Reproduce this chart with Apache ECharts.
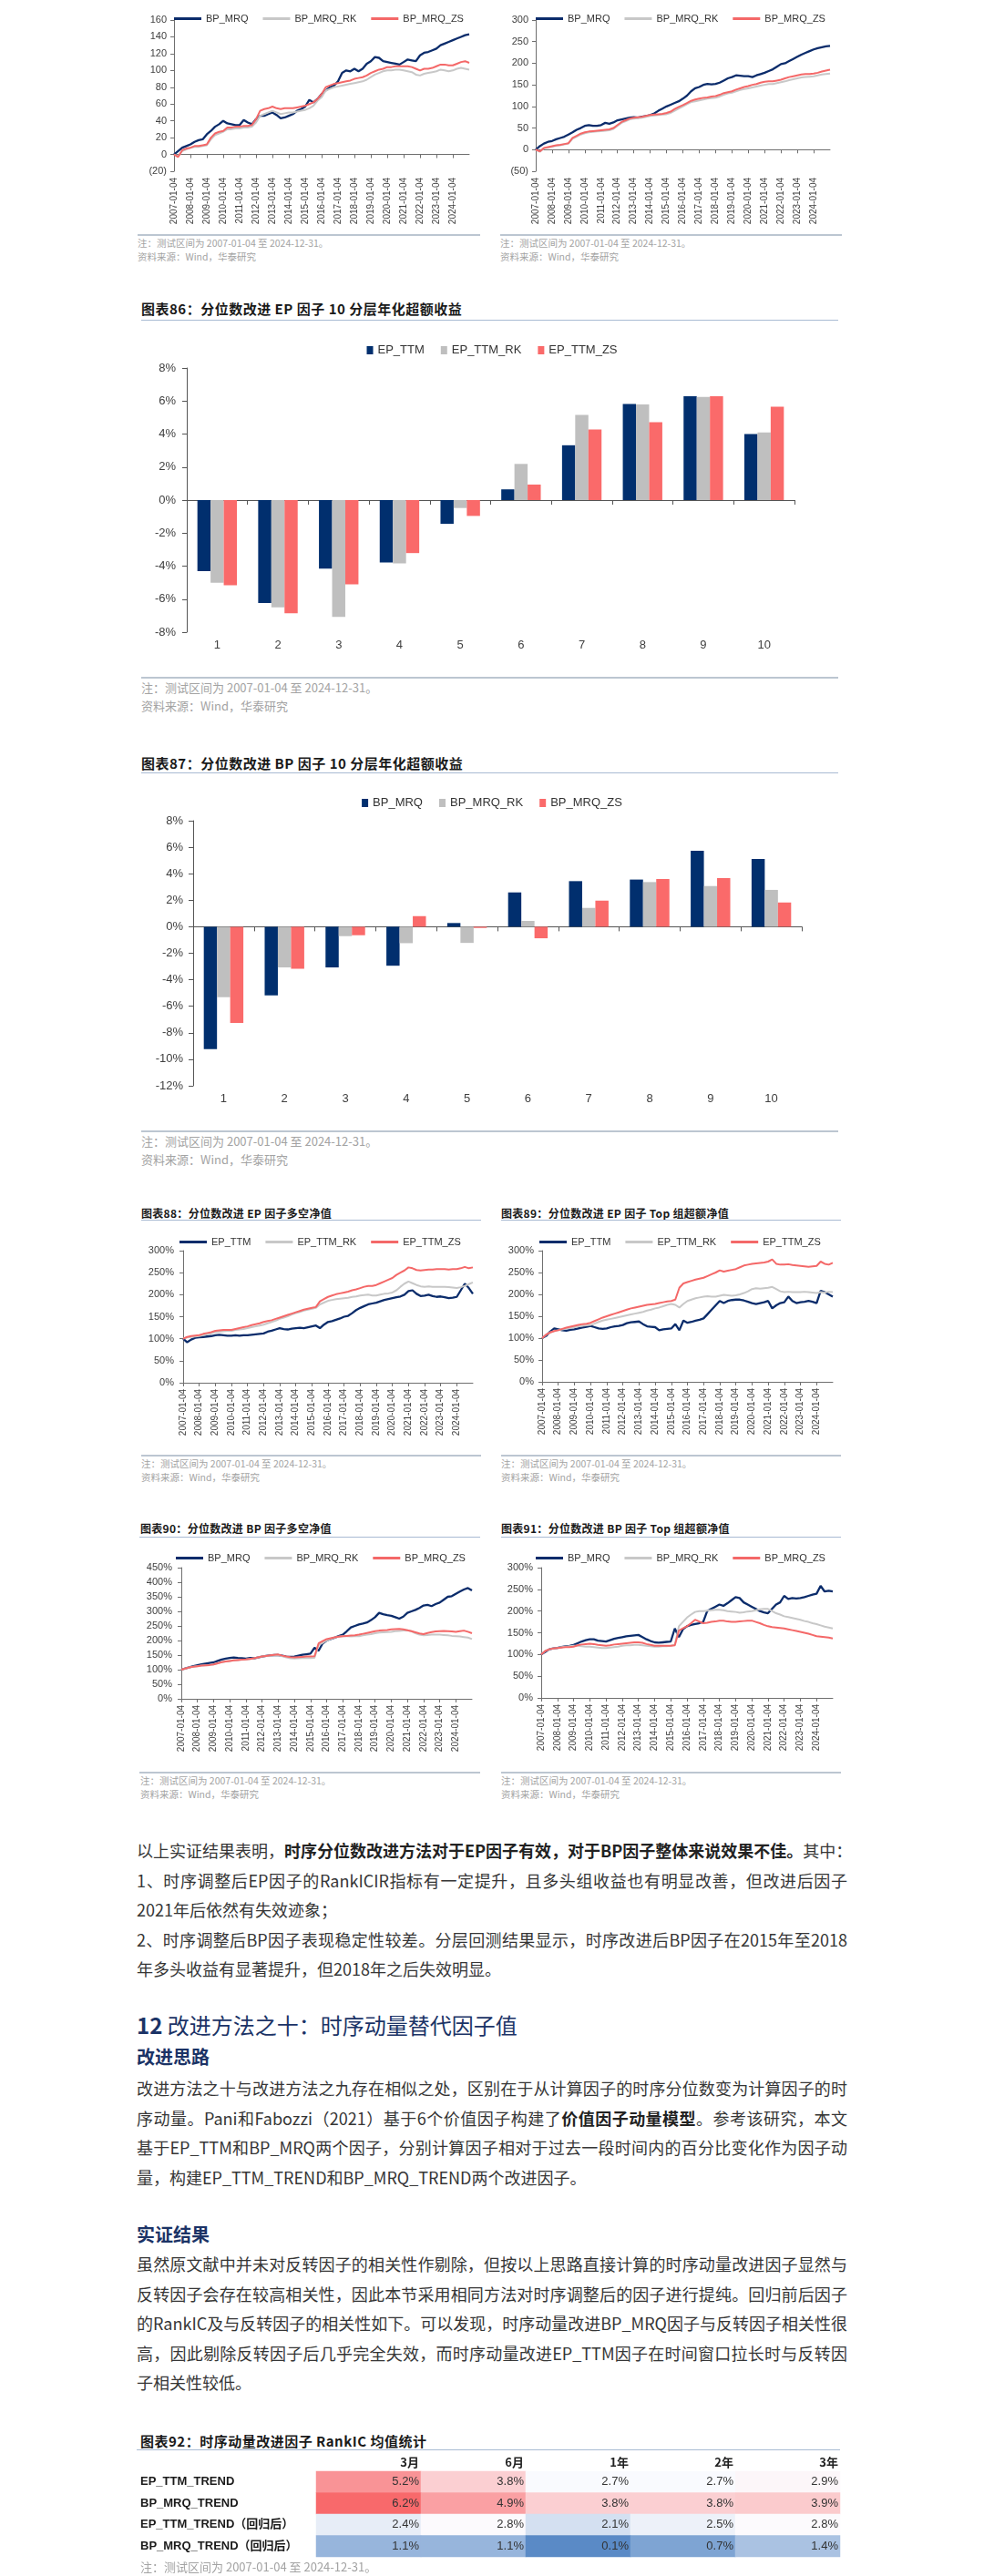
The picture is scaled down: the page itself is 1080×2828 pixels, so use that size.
<!DOCTYPE html>
<html><head><meta charset="utf-8">
<script src="https://cdn.jsdelivr.net/npm/echarts@6.0.0/dist/echarts.min.js"></script>
<style>
html,body{margin:0;padding:0;background:#fff;}
body{width:1080px;height:2828px;position:relative;overflow:hidden;font-family:"Noto Sans CJK SC","Noto Sans",sans-serif;}
.ch{position:absolute;}
.ttl{position:absolute;font-weight:bold;color:#1a1a1a;white-space:nowrap;font-family:"Noto Sans CJK SC",sans-serif;}
.t15{font-size:15px;line-height:20px;letter-spacing:0.5px;}
.t12{font-size:12px;line-height:16px;letter-spacing:0.3px;}
.rule{position:absolute;height:1px;background:#a9bbd3;}
.nrule{position:absolute;height:2px;background:#bcc6d1;}
.note{position:absolute;color:#a3a3a3;white-space:nowrap;font-family:"Noto Sans CJK SC",sans-serif;}
.n13{font-size:13px;line-height:18px;}
.n10{font-size:10.5px;line-height:14px;}
.para{position:absolute;left:150px;width:780px;font-size:18px;line-height:32.5px;color:#363636;}
.ln{white-space:nowrap;text-align:justify;text-align-last:justify;}
.ln.last{text-align-last:left;}
.para b{font-weight:bold;color:#222;}
.h1{position:absolute;left:150px;font-size:24px;line-height:32px;color:#1b3366;white-space:nowrap;}
.h2{position:absolute;left:150px;font-size:20px;line-height:28px;color:#1b3366;font-weight:bold;white-space:nowrap;}
</style>
</head>
<body>

<!-- top charts -->
<div id="c_tl" class="ch" style="left:0;top:0;width:540px;height:256px;"></div>
<div id="c_tr" class="ch" style="left:540px;top:0;width:540px;height:256px;"></div>
<div class="nrule" style="left:151px;top:257px;width:376px;"></div>
<div class="nrule" style="left:549px;top:257px;width:375px;"></div>
<div class="note n10" style="left:151px;top:260px;">注：测试区间为 2007-01-04 至 2024-12-31。</div>
<div class="note n10" style="left:151px;top:275px;">资料来源：Wind，华泰研究</div>
<div class="note n10" style="left:549px;top:260px;">注：测试区间为 2007-01-04 至 2024-12-31。</div>
<div class="note n10" style="left:549px;top:275px;">资料来源：Wind，华泰研究</div>

<!-- chart 86 -->
<div class="ttl t15" style="left:155px;top:329px;">图表86：分位数改进 EP 因子 10 分层年化超额收益</div>
<div class="rule" style="left:155px;top:351px;width:765px;"></div>
<div id="c86" class="ch" style="left:0;top:360px;width:1080px;height:375px;"></div>
<div class="nrule" style="left:155px;top:743px;width:765px;"></div>
<div class="note n13" style="left:155px;top:746px;">注：测试区间为 2007-01-04 至 2024-12-31。</div>
<div class="note n13" style="left:155px;top:766px;">资料来源：Wind，华泰研究</div>

<!-- chart 87 -->
<div class="ttl t15" style="left:155px;top:828px;">图表87：分位数改进 BP 因子 10 分层年化超额收益</div>
<div class="rule" style="left:155px;top:848px;width:765px;"></div>
<div id="c87" class="ch" style="left:0;top:860px;width:1080px;height:375px;"></div>
<div class="nrule" style="left:155px;top:1241px;width:765px;"></div>
<div class="note n13" style="left:155px;top:1244px;">注：测试区间为 2007-01-04 至 2024-12-31。</div>
<div class="note n13" style="left:155px;top:1264px;">资料来源：Wind，华泰研究</div>

<!-- charts 88 / 89 -->
<div class="ttl t12" style="left:155px;top:1324px;">图表88：分位数改进 EP 因子多空净值</div>
<div class="ttl t12" style="left:550px;top:1324px;">图表89：分位数改进 EP 因子 Top 组超额净值</div>
<div class="rule" style="left:155px;top:1339px;width:373px;"></div>
<div class="rule" style="left:550px;top:1339px;width:373px;"></div>
<div id="c88" class="ch" style="left:0;top:1340px;width:540px;height:250px;"></div>
<div id="c89" class="ch" style="left:540px;top:1340px;width:540px;height:250px;"></div>
<div class="nrule" style="left:155px;top:1597px;width:373px;"></div>
<div class="nrule" style="left:550px;top:1597px;width:373px;"></div>
<div class="note n10" style="left:155px;top:1600px;">注：测试区间为 2007-01-04 至 2024-12-31。</div>
<div class="note n10" style="left:155px;top:1615px;">资料来源：Wind，华泰研究</div>
<div class="note n10" style="left:550px;top:1600px;">注：测试区间为 2007-01-04 至 2024-12-31。</div>
<div class="note n10" style="left:550px;top:1615px;">资料来源：Wind，华泰研究</div>

<!-- charts 90 / 91 -->
<div class="ttl t12" style="left:154px;top:1670px;">图表90：分位数改进 BP 因子多空净值</div>
<div class="ttl t12" style="left:550px;top:1670px;">图表91：分位数改进 BP 因子 Top 组超额净值</div>
<div class="rule" style="left:153px;top:1687px;width:374px;"></div>
<div class="rule" style="left:550px;top:1687px;width:373px;"></div>
<div id="c90" class="ch" style="left:0;top:1690px;width:540px;height:250px;"></div>
<div id="c91" class="ch" style="left:540px;top:1690px;width:540px;height:250px;"></div>
<div class="nrule" style="left:153px;top:1945px;width:374px;"></div>
<div class="nrule" style="left:550px;top:1945px;width:373px;"></div>
<div class="note n10" style="left:154px;top:1948px;">注：测试区间为 2007-01-04 至 2024-12-31。</div>
<div class="note n10" style="left:154px;top:1963px;">资料来源：Wind，华泰研究</div>
<div class="note n10" style="left:550px;top:1948px;">注：测试区间为 2007-01-04 至 2024-12-31。</div>
<div class="note n10" style="left:550px;top:1963px;">资料来源：Wind，华泰研究</div>

<!-- text -->
<div class="para" style="top:2015px;">
<div class="ln">以上实证结果表明，<b>时序分位数改进方法对于EP因子有效，对于BP因子整体来说效果不佳。</b>其中：</div>
<div class="ln">1、时序调整后EP因子的RankICIR指标有一定提升，且多头组收益也有明显改善，但改进后因子</div>
<div class="ln last">2021年后依然有失效迹象；</div>
<div class="ln">2、时序调整后BP因子表现稳定性较差。分层回测结果显示，时序改进后BP因子在2015年至2018</div>
<div class="ln last">年多头收益有显著提升，但2018年之后失效明显。</div>
</div>
<div class="h1" style="top:2207px;"><b>12</b> 改进方法之十：时序动量替代因子值</div>
<div class="h2" style="top:2244px;">改进思路</div>
<div class="para" style="top:2276px;">
<div class="ln">改进方法之十与改进方法之九存在相似之处，区别在于从计算因子的时序分位数变为计算因子的时</div>
<div class="ln">序动量。Pani和Fabozzi（2021）基于6个价值因子构建了<b>价值因子动量模型</b>。参考该研究，本文</div>
<div class="ln">基于EP_TTM和BP_MRQ两个因子，分别计算因子相对于过去一段时间内的百分比变化作为因子动</div>
<div class="ln last">量，构建EP_TTM_TREND和BP_MRQ_TREND两个改进因子。</div>
</div>
<div class="h2" style="top:2439px;">实证结果</div>
<div class="para" style="top:2469px;">
<div class="ln">虽然原文献中并未对反转因子的相关性作剔除，但按以上思路直接计算的时序动量改进因子显然与</div>
<div class="ln">反转因子会存在较高相关性，因此本节采用相同方法对时序调整后的因子进行提纯。回归前后因子</div>
<div class="ln">的RankIC及与反转因子的相关性如下。可以发现，时序动量改进BP_MRQ因子与反转因子相关性很</div>
<div class="ln">高，因此剔除反转因子后几乎完全失效，而时序动量改进EP_TTM因子在时间窗口拉长时与反转因</div>
<div class="ln last">子相关性较低。</div>
</div>

<!-- table 92 -->
<div class="ttl t15" style="left:154px;top:2670px;">图表92：时序动量改进因子 RankIC 均值统计</div>
<div class="rule" style="left:150px;top:2689px;width:772px;"></div>
<div id="ctbl" class="ch" style="left:0;top:2690px;width:1080px;height:122px;"></div>
<div class="note n13" style="left:154px;top:2809px;">注：测试区间为 2007-01-04 至 2024-12-31。</div>

<script>
// ---------- data ----------
// quarterly sample dates, 2007-01-04 ... 2024-12-31
const dates = [];
for (let y = 2007; y <= 2024; y++) { ['01-04','04-01','07-01','10-08'].forEach(md => dates.push(y + '-' + md)); }
dates.push('2024-12-31');

// top-left panel (BP_MRQ family)
const tlMRQ = [0,4,8,10, 12,15,17,18, 24,28,33,36, 40,37,36,35, 35,41,38,36, 42,46,46,48, 50,47,43,44, 46,48,52,54, 57,65,62,66, 72,76,80,82, 87,97,100,99, 102,99,102,108, 111,116,115,111, 110,109,108,107, 110,113,112,111, 118,121,122,124, 126,130,132,134, 136,138,140,142, 143];
const tlRK  = [0,-2,4,6, 8,9,9,10, 11,18,23,25, 27,30,30,31, 31,32,32,33, 38,46,48,50, 52,50,48,49, 50,50,51,52, 53,55,58,64, 68,76,78,80, 81,82,83,84, 85,86,87,89, 92,95,97,99, 100,100,101,101, 100,99,98,95, 94,96,97,98, 99,101,100,99, 100,102,103,102, 101];
const tlZS  = [0,-3,5,7, 8,10,10,11, 12,20,25,27, 28,32,32,33, 33,34,34,35, 42,52,54,55, 57,55,54,55, 55,55,56,57, 58,60,62,66, 72,80,82,84, 85,86,87,88, 90,91,92,94, 97,99,101,102, 104,104,105,105, 105,105,104,102, 100,102,102,103, 105,107,107,106, 106,108,110,111, 109];
// top-right panel
const trMRQ = [0,8,14,18, 20,24,27,30, 35,40,46,50, 55,57,55,55, 57,62,60,63, 68,70,72,74, 75,74,76,78, 80,84,90,95, 100,104,108,112, 118,125,135,142, 145,150,152,151, 152,155,160,165, 168,172,171,170, 170,168,172,175, 178,182,186,192, 198,200,205,210, 215,220,224,228, 232,235,237,239, 240];
const trRK  = [0,-5,3,5, 7,9,10,12, 14,25,30,35, 38,40,41,42, 43,44,45,48, 55,62,66,70, 72,73,74,76, 78,79,80,81, 82,85,90,95, 100,105,110,112, 114,116,118,119, 120,123,127,130, 132,135,138,140, 142,144,146,148, 150,152,152,154, 156,158,161,163, 165,167,168,169, 170,172,174,175, 176];
const trZS  = [0,-4,4,6, 8,10,11,13, 15,27,32,37, 40,42,43,44, 45,46,47,50, 57,64,68,72, 74,75,76,78, 80,81,82,83, 85,88,94,99, 103,108,113,116, 118,120,121,123, 124,127,131,133, 135,139,142,145, 147,150,152,155, 157,158,158,160, 162,165,168,170, 172,174,175,175, 176,178,181,183, 185];

// chart 86 / 87 : decile annualised excess return (%)
const deciles = ['1','2','3','4','5','6','7','8','9','10'];
const ep86TTM = [-4.31,-6.23,-4.15,-3.78,-1.44,0.65,3.32,5.82,6.29,4.00];
const ep86RK  = [-5.01,-6.49,-7.08,-3.83,-0.48,2.19,5.16,5.79,6.25,4.09];
const ep86ZS  = [-5.16,-6.86,-5.11,-3.21,-0.96,0.94,4.28,4.72,6.29,5.66];
const bp87MRQ = [-9.24,-5.18,-3.07,-2.94,0.28,2.59,3.44,3.56,5.73,5.11];
const bp87RK  = [-5.32,-3.07,-0.71,-1.24,-1.22,0.44,1.42,3.37,3.07,2.78];
const bp87ZS  = [-7.25,-3.17,-0.64,0.80,-0.09,-0.87,1.97,3.60,3.67,1.83];

// chart 88 : EP long-short NAV (%)
const e88TTM = [100,92,98,102, 103,104,105,106, 108,109,108,107, 107,108,107,108, 108,109,110,111, 112,116,118,121, 124,122,121,123, 124,125,124,126, 128,130,124,132, 138,140,143,146, 150,152,158,165, 170,174,178,180, 182,185,188,190, 192,194,196,200, 208,210,202,197, 198,200,197,195, 196,194,192,193, 195,210,225,215, 202];
const e88RK  = [100,103,104,105, 106,108,110,112, 115,116,117,118, 118,120,121,122, 124,126,128,130, 132,135,138,141, 145,148,151,155, 158,161,164,166, 168,170,178,182, 186,188,190,191, 192,193,195,196, 198,199,200,198, 198,200,202,203, 205,210,218,225, 230,226,222,219, 218,219,218,218, 218,218,217,216, 215,217,220,224, 228];
const e88ZS  = [100,104,106,107, 108,111,113,115, 118,119,120,120, 120,122,124,126, 128,131,133,135, 138,140,142,145, 148,151,154,157, 160,163,166,168, 170,172,185,190, 195,198,201,203, 205,207,210,212, 215,218,220,220, 222,226,230,234, 238,245,250,255, 262,260,256,255, 256,257,257,258, 258,258,257,258, 258,260,263,260, 262];
// chart 89 : EP top-group excess NAV (%)
const e89TTM = [100,105,115,122, 120,118,117,119, 120,122,124,126, 128,125,122,121, 122,125,127,128, 130,134,136,137, 138,132,127,126, 125,118,120,121, 122,132,118,140, 135,137,140,142, 145,155,165,175, 185,180,185,187, 188,188,186,183, 180,178,180,182, 185,168,175,180, 182,195,185,180, 182,183,185,183, 180,208,205,200, 195];
const e89RK  = [100,108,113,116, 118,120,122,123, 125,127,128,129, 130,133,137,140, 142,144,146,148, 150,152,154,156, 158,160,163,165, 168,170,173,176, 178,176,170,178, 185,188,191,193, 195,196,195,195, 197,199,198,197, 198,200,203,207, 212,214,213,214, 215,217,212,207, 205,206,205,205, 205,206,205,204, 203,205,204,206, 205];
const e89ZS  = [100,108,113,116, 118,121,124,126, 128,130,132,133, 135,139,143,147, 150,153,156,159, 162,165,168,170, 172,174,176,177, 178,180,182,184, 185,188,215,225, 228,231,234,236, 238,242,246,250, 255,252,254,256, 258,262,266,268, 270,271,272,273, 275,280,270,268, 268,269,267,266, 265,264,263,264, 265,275,270,268, 272];
// chart 90 : BP long-short NAV (%)
const b90MRQ = [100,104,108,112, 115,118,121,123, 125,130,135,138, 140,142,140,139, 138,140,139,142, 145,147,149,150, 150,148,145,144, 145,148,151,153, 155,175,165,190, 200,205,210,215, 220,232,245,250, 255,258,262,270, 280,295,290,287, 285,280,275,282, 295,300,305,312, 320,322,318,325, 330,340,350,352, 360,368,375,380, 372];
const b90RK  = [100,104,108,110, 112,114,115,116, 118,122,126,128, 130,132,133,134, 135,137,139,142, 145,147,148,149, 150,146,142,139, 138,139,140,140, 140,141,185,192, 200,205,210,213, 215,215,214,215, 215,218,220,222, 225,227,228,229, 230,232,233,234, 235,232,225,220, 218,219,220,220, 220,219,218,216, 215,214,212,210, 205];
const b90ZS  = [100,104,108,110, 112,114,115,116, 118,122,126,128, 130,132,133,134, 135,137,139,142, 145,147,149,151, 152,148,145,143, 142,143,144,145, 145,146,190,198, 205,208,211,213, 215,216,217,218, 220,223,226,229, 232,234,235,236, 238,239,240,238, 235,232,228,224, 222,226,229,231, 232,233,232,231, 230,232,234,230, 225];
// chart 91 : BP top-group excess NAV (%)
const b91MRQ = [100,106,112,114, 115,117,119,120, 122,126,130,133, 135,135,132,131, 130,133,136,138, 140,142,143,144, 145,140,135,131, 128,127,128,129, 130,160,140,158, 165,168,170,172, 175,200,205,210, 215,212,218,225, 232,230,220,215, 210,205,200,197, 195,205,215,220, 235,228,230,229, 230,232,235,238, 240,258,245,247, 245];
const b91RK  = [100,108,112,114, 115,117,118,119, 120,120,119,118, 118,117,116,115, 115,116,117,118, 120,121,121,122, 122,121,120,119, 118,118,119,119, 120,122,165,175, 185,192,198,200, 200,201,202,203, 203,202,200,199, 198,196,197,199, 200,202,204,205, 205,200,195,192, 188,186,184,182, 180,177,175,172, 170,167,164,162, 160];
const b91ZS  = [100,108,112,114, 115,116,117,117, 118,121,123,124, 125,124,122,121, 120,121,123,124, 125,126,127,128, 128,127,124,122, 120,120,120,120, 120,121,155,160, 165,172,180,176, 172,173,175,176, 178,178,176,175, 175,176,177,178, 178,175,172,168, 165,163,162,161, 160,158,156,154, 152,150,148,145, 142,141,140,139, 137];

// table 92 : RankIC means (%)
const tblCols = ['3月','6月','1年','2年','3年'];
const tblRows = ['EP_TTM_TREND','BP_MRQ_TREND','EP_TTM_TREND（回归后）','BP_MRQ_TREND（回归后）'];
const icEP  = [5.2,3.8,2.7,2.7,2.9];
const icBP  = [6.2,4.9,3.8,3.8,3.9];
const icEPr = [2.4,2.8,2.1,2.5,2.8];
const icBPr = [1.1,1.1,0.1,0.7,1.4];

// ---------- styling ----------
const LINE_COLORS = ['#0b2c6b', '#c8c8c8', '#f46868'];
const LINE_W = [2.3, 2, 2];
const BAR_COLORS = ['#012f6e', '#bfbfbf', '#fa6a6a'];
const FONT = '"Liberation Sans", Arial, "Noto Sans CJK SC", sans-serif';
const AX = '#6f6f6f';
function yearTick(idx) { return idx % 4 === 0 && idx < 72; }

function makeLine(id, o) {
  const ch = echarts.init(document.getElementById(id));
  ch.setOption({
    animation: false,
    textStyle: {fontFamily: FONT},
    legend: {left: o.ll, top: o.lt, icon: 'rect', itemWidth: 30, itemHeight: 3, itemGap: 16, padding: 0,
      textStyle: {fontSize: 11, color: '#333', fontFamily: FONT}, data: o.names},
    grid: {left: o.gl, top: o.gt, width: o.gw, height: o.gh, containLabel: false, outerBoundsMode: 'none'},
    xAxis: [
      // label axis at the bottom of the plot
      {type: 'category', data: dates, boundaryGap: false, position: 'bottom',
        axisLine: {show: false, onZero: false}, axisTick: {show: false},
        axisLabel: {interval: yearTick, rotate: 90, fontSize: 10, color: '#404040', margin: o.lm, fontFamily: FONT},
        splitLine: {show: false}},
      // axis line + ticks sitting on zero
      {type: 'category', data: dates, boundaryGap: false, position: 'top',
        axisLine: {show: true, onZero: true, lineStyle: {color: AX, width: 1}},
        axisTick: {show: true, inside: true, interval: yearTick, length: 4, lineStyle: {color: AX}},
        axisLabel: {show: false}, splitLine: {show: false}}
    ],
    yAxis: {type: 'value', min: o.min, max: o.max, interval: o.iv,
      axisLine: {show: true, lineStyle: {color: AX}},
      axisTick: {show: true, length: 4, lineStyle: {color: AX}},
      axisLabel: {fontSize: 11, color: '#404040', margin: o.ym, formatter: o.fmt, fontFamily: FONT},
      splitLine: {show: false}},
    series: o.series.map((d, i) => ({name: o.names[i], type: 'line', xAxisIndex: 0, data: d, symbol: 'none', showSymbol: false,
      lineStyle: {width: LINE_W[i], color: LINE_COLORS[i]}, itemStyle: {color: LINE_COLORS[i]}, z: 2 + i}))
  });
}

function makeBar(id, o) {
  const ch = echarts.init(document.getElementById(id));
  ch.setOption({
    animation: false,
    textStyle: {fontFamily: FONT},
    legend: {left: 'center', top: o.lt, icon: 'rect', itemWidth: 7, itemHeight: 9, itemGap: 18, padding: 0,
      textStyle: {fontSize: 13, color: '#333', fontFamily: FONT}, data: o.names},
    grid: {left: o.gl, top: o.gt, width: o.gw, height: o.gh, containLabel: false, outerBoundsMode: 'none'},
    xAxis: [
      {type: 'category', data: deciles, position: 'bottom',
        axisLine: {show: false, onZero: false}, axisTick: {show: false},
        axisLabel: {fontSize: 13, color: '#404040', margin: 8, fontFamily: FONT}},
      {type: 'category', data: deciles, position: 'top',
        axisLine: {show: true, onZero: true, lineStyle: {color: '#555'}},
        axisTick: {show: true, inside: true, length: 5, lineStyle: {color: '#555'}},
        axisLabel: {show: false}}
    ],
    yAxis: {type: 'value', min: o.min, max: o.max, interval: 2,
      axisLine: {show: true, lineStyle: {color: '#555'}},
      axisTick: {show: true, length: 5, lineStyle: {color: '#555'}},
      splitLine: {show: false},
      axisLabel: {fontSize: 13, color: '#404040', margin: o.ym, formatter: v => v + '%', fontFamily: FONT}},
    series: o.series.map((d, i) => ({name: o.names[i], type: 'bar', xAxisIndex: 0, data: d, barGap: '0%', barCategoryGap: '35%',
      itemStyle: {color: BAR_COLORS[i]}}))
  });
}

const paren = v => v < 0 ? '(' + (-v) + ')' : String(v);
const pct = v => v + '%';
const BPN = ['BP_MRQ', 'BP_MRQ_RK', 'BP_MRQ_ZS'];
const EPN = ['EP_TTM', 'EP_TTM_RK', 'EP_TTM_ZS'];

makeLine('c_tl', {gl: 191, gt: 22, gw: 324, gh: 166, min: -20, max: 160, iv: 20, ll: 191, lt: 15, ym: 8, lm: 7, fmt: paren, names: BPN, series: [tlMRQ, tlRK, tlZS]});
makeLine('c_tr', {gl: 48, gt: 22, gw: 323, gh: 166, min: -50, max: 300, iv: 50, ll: 48, lt: 15, ym: 8, lm: 7, fmt: paren, names: BPN, series: [trMRQ, trRK, trZS]});
makeBar('c86', {gl: 205, gt: 44, gw: 667, gh: 290, min: -8, max: 8, lt: 18, ym: 12, names: EPN, series: [ep86TTM, ep86RK, ep86ZS]});
makeBar('c87', {gl: 212, gt: 41, gw: 668, gh: 291, min: -12, max: 8, lt: 15, ym: 11, names: BPN, series: [bp87MRQ, bp87RK, bp87ZS]});
makeLine('c88', {gl: 201, gt: 33, gw: 318, gh: 145, min: 0, max: 300, iv: 50, ll: 197, lt: 18, ym: 10, lm: 7, fmt: pct, names: EPN, series: [e88TTM, e88RK, e88ZS]});
makeLine('c89', {gl: 55, gt: 33, gw: 319, gh: 144, min: 0, max: 300, iv: 50, ll: 52, lt: 18, ym: 9, lm: 7, fmt: pct, names: EPN, series: [e89TTM, e89RK, e89ZS]});
makeLine('c90', {gl: 199, gt: 31, gw: 319, gh: 144, min: 0, max: 450, iv: 50, ll: 193, lt: 15, ym: 10, lm: 7, fmt: pct, names: BPN, series: [b90MRQ, b90RK, b90ZS]});
makeLine('c91', {gl: 54, gt: 31, gw: 320, gh: 143, min: 0, max: 300, iv: 50, ll: 48, lt: 15, ym: 9, lm: 7, fmt: pct, names: BPN, series: [b91MRQ, b91RK, b91ZS]});

// ---------- table 92 as heatmap ----------
(function () {
  const rows = [icEP, icBP, icEPr, icBPr];
  const cells = [];
  rows.forEach((r, yi) => r.forEach((v, xi) => cells.push([xi, yi, v])));
  const all = cells.map(c => c[2]).slice().sort((a, b) => a - b);
  const vmin = all[0], vmax = all[all.length - 1];
  const mid = (all[all.length / 2 - 1] + all[all.length / 2]) / 2;
  const blue = [0x5A, 0x8A, 0xC6], white = [0xFC, 0xFC, 0xFF], red = [0xF8, 0x69, 0x6B];
  const mix = (a, b, t) => 'rgb(' + a.map((c, k) => Math.round(c + (b[k] - c) * t)).join(',') + ')';
  const stops = [];
  for (let k = 0; k <= 60; k++) {
    const v = vmin + (vmax - vmin) * k / 60;
    stops.push(v <= mid ? mix(blue, white, (v - vmin) / (mid - vmin)) : mix(white, red, (v - mid) / (vmax - mid)));
  }
  const ch = echarts.init(document.getElementById('ctbl'));
  ch.setOption({
    animation: false,
    textStyle: {fontFamily: FONT},
    grid: {left: 347, top: 23, width: 575, height: 94, containLabel: false, outerBoundsMode: 'none'},
    visualMap: {show: false, type: 'continuous', min: vmin, max: vmax, dimension: 2, seriesIndex: 0, inRange: {color: stops}},
    xAxis: {type: 'category', position: 'top', data: tblCols,
      axisLine: {show: false}, axisTick: {show: false}, splitLine: {show: false},
      axisLabel: {margin: 3, formatter: v => '{h|' + v + '}',
        rich: {h: {width: 111, align: 'right', fontSize: 13, fontWeight: 'bold', color: '#222', fontFamily: '"Noto Sans CJK SC", sans-serif'}}}},
    yAxis: {type: 'category', inverse: true, data: tblRows,
      axisLine: {show: false}, axisTick: {show: false}, splitLine: {show: false},
      axisLabel: {align: 'left', margin: 193, fontSize: 13, fontWeight: 'bold', color: '#1a1a1a', fontFamily: FONT}},
    series: [{type: 'heatmap', data: cells, itemStyle: {borderWidth: 0},
      emphasis: {disabled: true},
      label: {show: true, formatter: p => '{v|' + p.value[2].toFixed(1) + '%}',
        rich: {v: {width: 111, align: 'right', fontSize: 13, color: '#333', fontFamily: FONT}}}}]
  });
})();
</script>
</body></html>
